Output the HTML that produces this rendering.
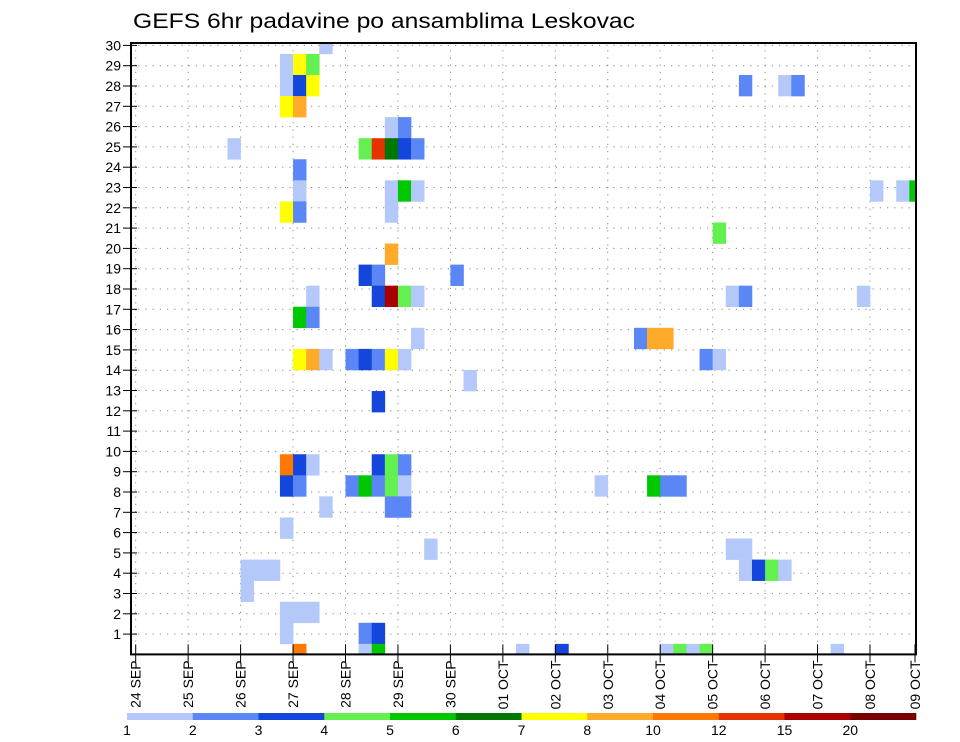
<!DOCTYPE html>
<html><head><meta charset="utf-8"><style>
html,body{margin:0;padding:0;background:#fff;}
svg{display:block;font-family:"Liberation Sans",sans-serif;}
</style></head><body>
<svg id="chart" width="960" height="742" viewBox="0 0 960 742" xmlns="http://www.w3.org/2000/svg">
<text x="133" y="28" font-size="21" textLength="502" lengthAdjust="spacingAndGlyphs">GEFS 6hr padavine po ansamblima Leskovac</text>
<g id="grid"></g>
<g id="cells"></g>
<g id="axes"></g>
<g id="legend"></g>
</svg>
<script>
// Data
const dayLabels = ["24 SEP","25 SEP","26 SEP","27 SEP","28 SEP","29 SEP","30 SEP","01 OCT","02 OCT","03 OCT","04 OCT","05 OCT","06 OCT","07 OCT","08 OCT","09 OCT"];
const yTicks = [1,2,3,4,5,6,7,8,9,10,11,12,13,14,15,16,17,18,19,20,21,22,23,24,25,26,27,28,29,30];
const legendLabels = ["1","2","3","4","5","6","7","8","10","12","15","20"];
const levelColors = ["#b4c8fa","#5a87f5","#1446dc","#64f050","#00c800","#007800","#ffff00","#ffaa28","#ff7800","#e63200","#aa0000","#780000"];
// cells: member row, 6h step index from 24 SEP 00Z, colour level 1..12 (one line per member row)
const cellMember = [
29,
28,28,28,
27,27,27,27,27,27,
26,26,
25,25,
24,24,24,24,24,24,
23,
22,22,22,22,22,22,22,
21,21,21,
20,
19,
18,18,18,
17,17,17,17,17,17,17,17,
16,16,
15,15,15,15,
14,14,14,14,14,14,14,14,14,14,
13,
12,
9,9,9,9,9,9,
8,8,8,8,8,8,8,8,8,8,8,
7,7,7,
6,
5,5,5,
4,4,4,4,4,4,4,
3,
2,2,2,
1,1,1,
0,0,0,0,0,0,0,0,0,0];
const cellStep = [
14,
11,12,13,
11,12,13,46,49,50,
11,12,
19,20,
7,17,18,19,20,21,
12,
12,19,20,21,56,58,59,
11,12,19,
44,
19,
17,18,24,
13,18,19,20,21,45,46,55,
12,13,
21,38,39,40,
12,13,14,16,17,18,19,20,43,44,
25,
18,
11,12,13,18,19,20,
11,12,16,17,18,19,20,35,39,40,41,
14,19,20,
11,
22,45,46,
8,9,10,46,47,48,49,
8,
11,12,13,
11,17,18,
12,17,18,29,32,40,41,42,43,53];
const cellLevel = [
1,
1,7,4,
1,3,7,2,1,2,
7,8,
1,2,
1,4,10,6,3,2,
2,
1,1,5,1,1,1,5,
7,2,1,
4,
8,
3,2,2,
1,3,11,4,1,1,2,1,
5,2,
1,2,8,8,
7,8,1,2,3,2,7,1,2,1,
1,
3,
9,3,1,3,4,2,
3,2,2,5,2,4,1,1,5,2,2,
1,2,2,
1,
1,1,1,
1,1,1,1,3,4,1,
1,
1,1,1,
1,2,3,
9,1,5,1,3,1,4,1,4,1];

const NS="http://www.w3.org/2000/svg";
const L=131,R=916,T=43,B=654.4;
const X0=135.7, DAY=52.45, STEP=DAY/4;
const xDay=d=>X0+d*DAY;
const xStep=s=>X0+s*STEP;
const yTick=v=>B-v*20.3;
const ROWH=21.07;
const yMember=m=>B-m*ROWH;
function mk(tag,attrs,parent){const e=document.createElementNS(NS,tag);for(const k in attrs)e.setAttribute(k,attrs[k]);parent.appendChild(e);return e;}
const grid=document.getElementById('grid'),cells=document.getElementById('cells'),axes=document.getElementById('axes'),legend=document.getElementById('legend');

yTicks.forEach(v=>{const y=yTick(v);if(y<=T+1)return;
 const g=mk('line',{x1:L,x2:R,y1:y,y2:y,stroke:'#888','stroke-width':1,'stroke-dasharray':'1.2,6'},grid);
 
 });
dayLabels.forEach((d,i)=>{const x=xDay(i);if(x>=R-1||x<=L+1)return;
 const g=mk('line',{x1:x,x2:x,y1:T,y2:B,stroke:'#888','stroke-width':1,'stroke-dasharray':'1.2,6'},grid);
 
 });

const clip=mk('clipPath',{id:'pc'},document.getElementById('chart'));
mk('rect',{x:L,y:T,width:R-L,height:B-T},clip);
cells.setAttribute('clip-path','url(#pc)');
for(let i=0;i<cellMember.length;i++){
 const x=xStep(cellStep[i]),y=yMember(cellMember[i])-ROWH/2;
 const r=mk('rect',{x:x,y:y,width:STEP+0.3,height:ROWH+0.3,fill:levelColors[cellLevel[i]-1]},cells);
 
 
}

const frame=mk('rect',{x:L,y:T,width:R-L,height:B-T,fill:'none',stroke:'#000','stroke-width':2},axes);


yTicks.forEach(v=>{const y=yTick(v);
 const t=mk('line',{x1:L-8,x2:L+6,y1:y,y2:y,stroke:'#000','stroke-width':1},axes);
 
 
 const tx=mk('text',{x:L-10,y:y+5,'font-size':14,'text-anchor':'end'},axes);
 tx.textContent=v;
 
 });
dayLabels.forEach((d,i)=>{const x=Math.min(xDay(i),R-1);
 const t=mk('line',{x1:x,x2:x,y1:B-10,y2:B+8,stroke:'#000','stroke-width':1},axes);
 
 
 const tx=mk('text',{x:0,y:0,'font-size':14,'text-anchor':'end',transform:`translate(${x+5},${B+6}) rotate(-90)`},axes);
 tx.textContent=d;
 
 });

const LX0=127,LX1=916,SEG=(LX1-LX0)/levelColors.length;
levelColors.forEach((c,i)=>{
 const r=mk('rect',{x:LX0+i*SEG,y:713,width:SEG+0.3,height:7,fill:c},legend);
 
 });
legendLabels.forEach((s,i)=>{
 const t=mk('text',{x:LX0+i*SEG,y:735,'font-size':14,'text-anchor':'middle'},legend);
 t.textContent=s;
 
 });
</script>
</body></html>
